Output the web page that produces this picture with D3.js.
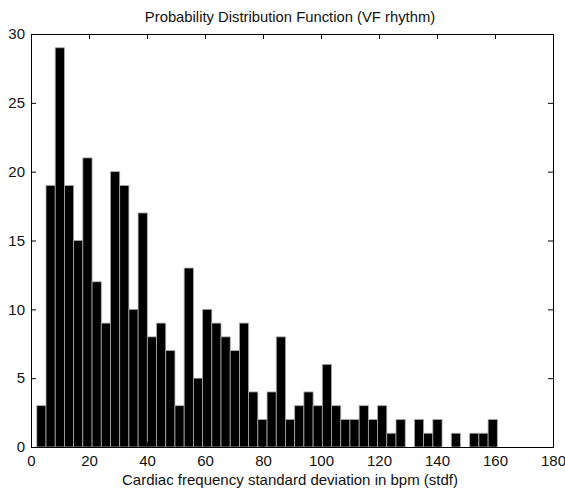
<!DOCTYPE html>
<html>
<head>
<meta charset="utf-8">
<script src="https://cdn.jsdelivr.net/npm/d3@7"></script>
<style>
    body { margin: 0; background: #fff; }
    text { font-family: "Liberation Sans", Arial, sans-serif; fill: #111; }
</style>
</head>
<body>
<div id="chart"></div>
<script>
// histogram counts (50 bins)
const counts = [3, 19, 29, 19, 15, 21, 12, 9, 20, 19,
                10, 17, 8, 9, 7, 3, 13, 5, 10, 9,
                8, 7, 9, 4, 2, 4, 8, 2, 3, 4,
                3, 6, 3, 2, 2, 3, 2, 3, 1, 2,
                0, 2, 1, 2, 0, 1, 0, 1, 1, 2];
// data range covered by the bins
const binMin = 2.0;
const binMax = 160.8;
const xTicks = [0, 20, 40, 60, 80, 100, 120, 140, 160, 180];
const yTicks = [0, 5, 10, 15, 20, 25, 30];
const titleText = "Probability Distribution Function (VF rhythm)";
const xLabelText = "Cardiac frequency standard deviation in bpm (stdf)";

const width = 565, height = 494;
const margin = {top: 34, right: 12, bottom: 47, left: 31};
const w = width - margin.left - margin.right;
const h = height - margin.top - margin.bottom;

const binWidth = (binMax - binMin) / counts.length;
const bins = counts.map((c, i) => ({x0: binMin + i * binWidth, x1: binMin + (i + 1) * binWidth, n: c}));

const svg = d3.select("#chart").append("svg")
    .attr("width", width)
    .attr("height", height);

const g = svg.append("g")
    .attr("transform", `translate(${margin.left},${margin.top})`);

const x = d3.scaleLinear().domain([0, 180]).range([0, w]);
const y = d3.scaleLinear().domain([0, 30]).range([h, 0]);

// bars
g.selectAll("rect.bar")
    .data(bins.filter(d => d.n > 0))
    .enter().append("rect")
    .attr("class", "bar")
    .attr("x", d => x(d.x0))
    .attr("width", d => x(d.x1) - x(d.x0))
    .attr("y", d => y(d.n))
    .attr("height", d => y(0) - y(d.n))
    .attr("fill", "#000")
    .attr("stroke", "#aaa")
    .attr("stroke-width", 0.8);

// axes, matlab style: ticks pointing inwards on all four sides
const tickLen = 5;
const xAxis = d3.axisBottom(x).tickValues(xTicks).tickSize(-tickLen).tickPadding(8);
const yAxis = d3.axisLeft(y).tickValues(yTicks).tickSize(-tickLen).tickPadding(6);

g.append("g").attr("transform", `translate(0,${h})`).call(xAxis);
g.append("g").call(yAxis);
g.append("g").call(d3.axisTop(x).tickValues(xTicks).tickSize(-tickLen).tickFormat(""));
g.append("g").attr("transform", `translate(${w},0)`)
    .call(d3.axisRight(y).tickValues(yTicks).tickSize(-tickLen).tickFormat(""));

g.selectAll(".domain").attr("stroke", "#000");
g.selectAll(".tick line").attr("stroke", "#000");
g.selectAll(".tick text").style("font-size", "15px").attr("fill", "#111");

// title and label
svg.append("text")
    .attr("x", margin.left + w / 2 - 2)
    .attr("y", 22)
    .attr("text-anchor", "middle")
    .style("font-size", "14.8px")
    .text(titleText);

svg.append("text")
    .attr("x", margin.left + w / 2 - 2)
    .attr("y", 485)
    .attr("text-anchor", "middle")
    .style("font-size", "15px")
    .text(xLabelText);
</script>
</body>
</html>
